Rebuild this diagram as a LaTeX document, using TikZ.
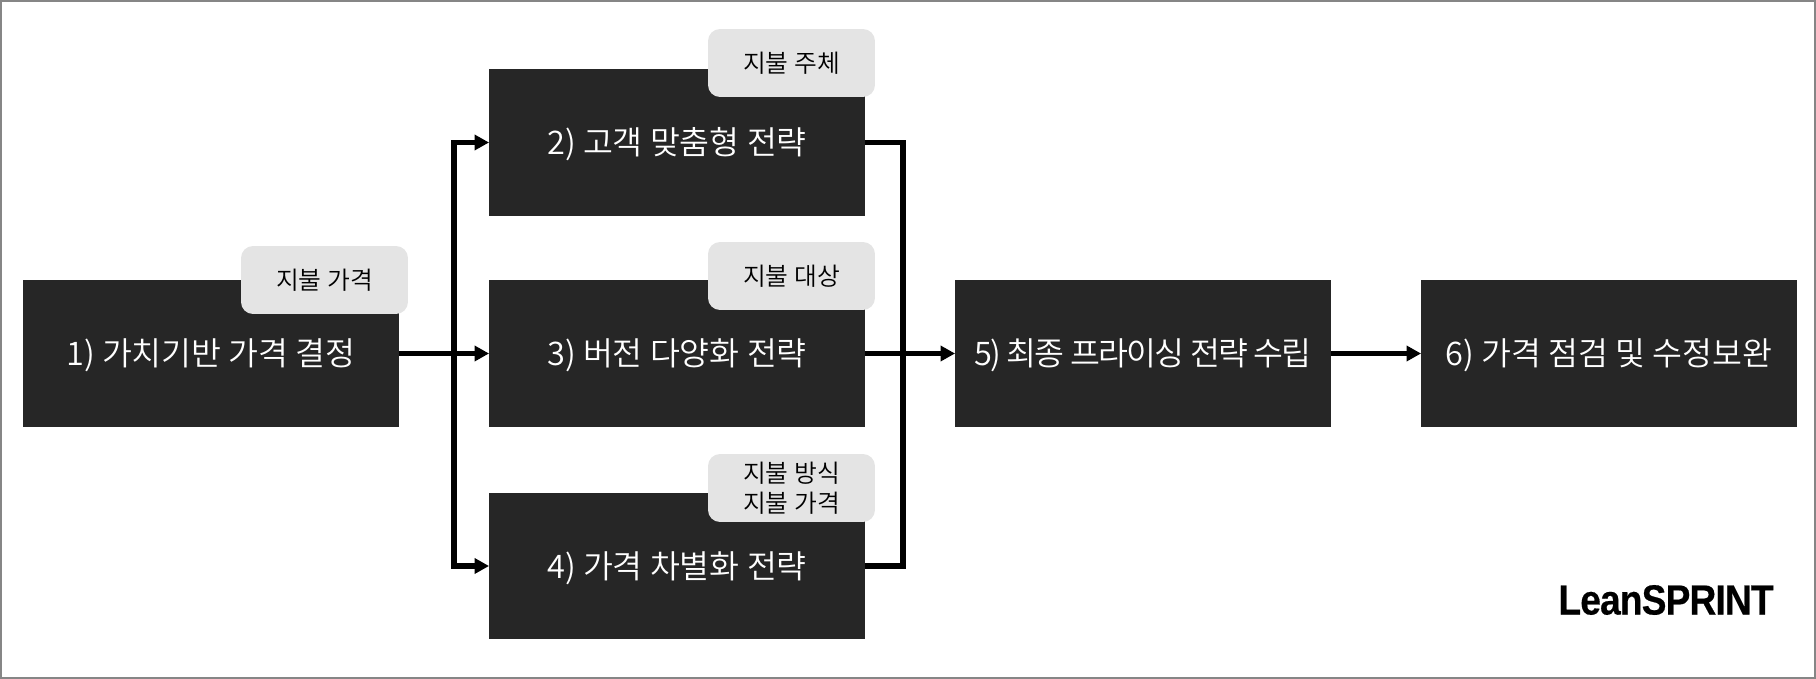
\documentclass[tikz,border=0pt]{standalone}
\usepackage{fontspec}
\setmainfont{Noto Sans CJK KR DemiLight}
\newfontfamily\logofont{Liberation Sans}[FakeStretch=0.88,LetterSpace=-2.0,FakeBold=0.4]
\usepackage{tikz}
\usetikzlibrary{arrows.meta}
\definecolor{sDark}{HTML}{262626}
\definecolor{sTag}{HTML}{E4E4E4}
\definecolor{sEdge}{HTML}{868686}

\begin{document}
\begin{tikzpicture}[x=0.02cm,y=-0.02cm,>={Triangle[length=2.9mm,width=3mm]}]
		\tikzstyle{STEP} = [minimum width=7.52cm, minimum height=2.94cm, inner sep=0pt, outer sep=0pt, text height=16pt, text depth=2pt]
		\tikzstyle{stage} = [font=\fontsize{18.5pt}{22pt}\selectfont, STEP, fill=sDark, text=white]
		\tikzstyle{tight} = [font=\fontsize{18.5pt}{22pt}\selectfont\addfontfeature{LetterSpace=-5.4}]
		\tikzstyle{tag} = [fill=sTag, text=black, rounded corners=0.24cm, minimum width=3.34cm, minimum height=1.36cm, inner sep=0pt, align=center, font=\fontsize{14.1pt}{17pt}\selectfont]
		\tikzstyle{link} = [line width=1.05mm]

		\useasboundingbox (0,0) rectangle (1816,679);
		\draw[sEdge, line width=0.04cm] (1,1) rectangle (1815,678);

		\node[stage] (sOne) at (211,353.5) {1) 가치기반 가격 결정};
		\node[stage] (sTwo) at (677,142.5) {2) 고객 맞춤형 전략};
		\node[stage] (sThree) at (677,353.5) {3) 버전 다양화 전략};
		\node[stage] (sFour) at (677,566) {4) 가격 차별화 전략};
		\node[stage,tight] (sFive) at (1143,353.5) {5) 최종 프라이싱 전략 수립};
		\node[stage] (sSix) at (1609,353.5) {6) 가격 점검 및 수정보완};

		\node[tag] (tOne) at (324.5,280) {지불 가격};
		\node[tag] (tTwo) at (791.5,63) {지불 주체};
		\node[tag] (tThree) at (791.5,276) {지불 대상};
		\node[tag] (tFour) at (791.5,488) {지불 방식\\지불 가격};

		\coordinate (cIn) at (454,353.5);
		\coordinate (cOut) at (903,353.5);

		\draw[->,link] (sOne.east) -- (sThree.west);
		\draw[->,link] (cIn) |- (sTwo.west);
		\draw[->,link] (cIn) |- (sFour.west);
		\draw[link] (sTwo.east) -| (cOut);
		\draw[link] (sFour.east) -| (cOut);
		\draw[->,link] (sThree.east) -- (sFive.west);
		\draw[->,link] (sFive.east) -- (sSix.west);

		\node[font=\logofont\bfseries\fontsize{24pt}{26pt}\selectfont, inner sep=0pt] (logo) at (1666,600) {LeanSPRINT};
\end{tikzpicture}
\end{document}
